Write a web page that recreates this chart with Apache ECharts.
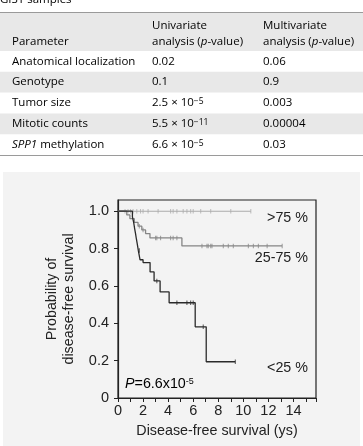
<!DOCTYPE html>
<html>
<head>
<meta charset="utf-8">
<script src="https://cdn.jsdelivr.net/npm/echarts@6/dist/echarts.min.js"></script>
<style>
html, body { margin: 0; padding: 0; background: #fff; }
#chart { width: 363px; height: 446px; }
</style>
</head>
<body>
<div id="chart"></div>
<script>
// table (p-values from the Cox analysis)
var tableCaption = 'GIST samples';
var headParam = 'Parameter';
var headUni = ['Univariate', 'analysis (_p_-value)'];
var headMulti = ['Multivariate', 'analysis (_p_-value)'];
var parameters = ['Anatomical localization', 'Genotype', 'Tumor size', 'Mitotic counts', '_SPP1_ methylation'];
var univariate = ['0.02', '0.1', '2.5 × 10^−5', '5.5 × 10^−11', '6.6 × 10^−5'];
var multivariate = ['0.06', '0.9', '0.003', '0.00004', '0.03'];

// Kaplan-Meier steps [years, probability]
var kmHigh = [[0, 1], [10.6, 1]];
var kmMid = [[0, 1], [0.7, 0.98], [0.95, 0.96], [1.3, 0.94], [1.6, 0.92], [1.9, 0.9], [2.2, 0.88],
    [2.55, 0.857], [5.1, 0.814], [13.1, 0.814]];
var kmLow = [[0, 1], [1.15, 0.97], [1.25, 0.94], [1.32, 0.91], [1.4, 0.88], [1.47, 0.85], [1.55, 0.82],
    [1.62, 0.79], [1.76, 0.74], [2.0, 0.725], [2.56, 0.675], [2.88, 0.627], [3.36, 0.568], [4.08, 0.51],
    [6.16, 0.381], [7.04, 0.194], [9.36, 0.194]];

// censored times
var censHigh = [0.56, 0.8, 1.0, 1.2, 1.5, 1.8, 2.0, 2.4, 3.2, 4.2, 4.4, 4.7, 5.2, 5.5, 5.8, 6.0, 6.6, 7.4, 9.0, 10.6];
var censMid = [1.7, 2.0, 3.0, 3.1, 3.4, 4.2, 4.4, 4.7, 6.7, 7.1, 7.2, 7.4, 7.5, 8.4, 8.8, 9.2, 10.4, 10.8, 11.2, 11.9, 13.1];
var censLow = [1.7, 3.1, 4.7, 5.5, 5.8, 6.0, 6.8, 9.36];

var groupLabels = ['>75 %', '25-75 %', '<25 %'];
var pValueText = '{i|P}{n|=6.6x10}{s|-5}';

var TF = '"Open Sans", "Noto Sans", sans-serif';
var AX = '"Liberation Sans", Arial, sans-serif';
var tableRich = {
    n: { fontFamily: TF, fontSize: 11.5, color: '#454545' },
    i: { fontFamily: TF, fontSize: 11.5, color: '#454545', fontStyle: 'italic' },
    s: { fontFamily: TF, fontSize: 8.5, color: '#454545', verticalAlign: 'top' }
};

function richCell(str) {
    // _x_ -> italic, a^b -> superscript
    var out = '';
    var parts = str.split('_');
    parts.forEach(function (p, k) {
        if (!p) return;
        if (k % 2 === 1) { out += '{i|' + p + '}'; return; }
        var sp = p.split('^');
        out += '{n|' + sp[0] + '}';
        if (sp[1]) out += '{s|' + sp[1] + '}';
    });
    return out;
}

function cellText(x, y, str, color) {
    var rich = JSON.parse(JSON.stringify(tableRich));
    if (color) { rich.n.color = color; rich.i.color = color; rich.s.color = color; }
    return {
        type: 'text', x: x, y: y, z: 10,
        style: { text: richCell(str), rich: rich, align: 'left', verticalAlign: 'middle',
            textAlign: 'left', textVerticalAlign: 'middle' }
    };
}

var colX = [12, 152, 263];
var rowTop = 51, rowH = 20.8;
var graphics = [];

// caption (cut at top edge)
graphics.push(cellText(0, 0, tableCaption));
// header band and row shading
graphics.push({ type: 'rect', shape: { x: 0, y: 13, width: 363, height: rowTop - 13 }, style: { fill: '#e8e8e8' } });
parameters.forEach(function (p, r) {
    if (r % 2 === 1) {
        graphics.push({ type: 'rect', shape: { x: 0, y: rowTop + r * rowH, width: 363, height: rowH }, style: { fill: '#e8e8e8' } });
    }
});
graphics.push({ type: 'line', shape: { x1: 0, y1: 12.5, x2: 363, y2: 12.5 }, style: { stroke: '#9a9a9a', lineWidth: 1 } });
var tableBottom = rowTop + parameters.length * rowH;
graphics.push({ type: 'line', shape: { x1: 0, y1: tableBottom + 0.5, x2: 363, y2: tableBottom + 0.5 }, style: { stroke: '#9a9a9a', lineWidth: 1 } });

// header text
graphics.push(cellText(colX[0], 42, headParam, '#333'));
graphics.push(cellText(colX[1], 26, headUni[0], '#333'));
graphics.push(cellText(colX[1], 42, headUni[1], '#333'));
graphics.push(cellText(colX[2], 26, headMulti[0], '#333'));
graphics.push(cellText(colX[2], 42, headMulti[1], '#333'));

parameters.forEach(function (p, r) {
    var cy = rowTop + r * rowH + rowH / 2;
    graphics.push(cellText(colX[0], cy, p));
    graphics.push(cellText(colX[1], cy, univariate[r]));
    graphics.push(cellText(colX[2], cy, multivariate[r]));
});

// figure panel
graphics.push({ type: 'rect', z: -10, shape: { x: 3, y: 172, width: 357, height: 280 }, style: { fill: '#f3f3f3' } });

// group labels and P value
var labelY = [218, 258, 368];
groupLabels.forEach(function (t, k) {
    graphics.push({
        type: 'text', x: 308, y: labelY[k], z: 10,
        style: { text: t, font: '14.3px ' + AX, fill: '#222', align: 'right', verticalAlign: 'middle',
            textAlign: 'right', textVerticalAlign: 'middle' }
    });
});
graphics.push({
    type: 'text', x: 125, y: 384, z: 10,
    style: {
        text: pValueText, align: 'left', verticalAlign: 'middle', textAlign: 'left', textVerticalAlign: 'middle',
        rich: {
            i: { fontFamily: AX, fontSize: 14.3, fontStyle: 'italic', color: '#222' },
            n: { fontFamily: AX, fontSize: 14.3, color: '#222' },
            s: { fontFamily: AX, fontSize: 9, color: '#222', verticalAlign: 'top' }
        }
    }
});

function survAt(pts, t) {
    var s = pts[0][1];
    pts.forEach(function (p) { if (p[0] <= t + 1e-9) s = p[1]; });
    return s;
}

function kmSeries(pts, color, width, z) {
    return { type: 'line', data: pts, step: 'end', symbol: 'none', silent: true, z: z,
        lineStyle: { color: color, width: width } };
}

function censorSeries(times, pts, color, z) {
    return {
        type: 'scatter', silent: true, z: z, symbol: 'rect', symbolSize: [1, 4.5],
        itemStyle: { color: color },
        data: times.map(function (t) { return [t, survAt(pts, t)]; })
    };
}

var chart = echarts.init(document.getElementById('chart'));
var option = {
    animation: false,
    backgroundColor: '#fff',
    graphic: graphics,
    grid: { left: 118, top: 200, right: 47, bottom: 48, show: true, borderColor: '#222', borderWidth: 1.2,
        backgroundColor: 'transparent' },
    xAxis: {
        type: 'value', min: 0, max: 15.8, interval: 2,
        axisLine: { lineStyle: { color: '#222', width: 1.2 } },
        axisTick: { length: 4, lineStyle: { color: '#222' } },
        minorTick: { show: true, splitNumber: 2, length: 4, lineStyle: { color: '#222' } },
        splitLine: { show: false },
        axisLabel: { showMaxLabel: false, fontSize: 14.5, color: '#222', fontFamily: AX, margin: 5 },
        name: 'Disease-free survival (ys)', nameLocation: 'middle', nameGap: 26,
        nameTextStyle: { fontSize: 14.3, color: '#222', fontFamily: AX }
    },
    yAxis: {
        type: 'value', min: 0, max: 1.06, interval: 0.2,
        axisLine: { show: true, lineStyle: { color: '#222', width: 1.2 } },
        axisTick: { show: true, length: 4, lineStyle: { color: '#222' } },
        splitLine: { show: false },
        axisLabel: {
            showMaxLabel: false, fontSize: 14.5, color: '#222', fontFamily: AX, margin: 9,
            formatter: function (v) { if (v > 1.001) return ''; return v === 0 ? '0' : v.toFixed(1); }
        },
        name: 'Probability of\ndisease-free survival', nameLocation: 'middle', nameGap: 36,
        nameTextStyle: { fontSize: 14.3, color: '#222', fontFamily: AX, lineHeight: 17.5 }
    },
    series: [
        kmSeries(kmHigh, '#ababab', 1.1, 2),
        censorSeries(censHigh, kmHigh, '#ababab', 2),
        kmSeries(kmMid, '#858585', 1.3, 3),
        censorSeries(censMid, kmMid, '#858585', 3),
        kmSeries(kmLow, '#2a2a2a', 1.3, 4),
        censorSeries(censLow, kmLow, '#2a2a2a', 4)
    ]
};
chart.setOption(option);
</script>
</body>
</html>
